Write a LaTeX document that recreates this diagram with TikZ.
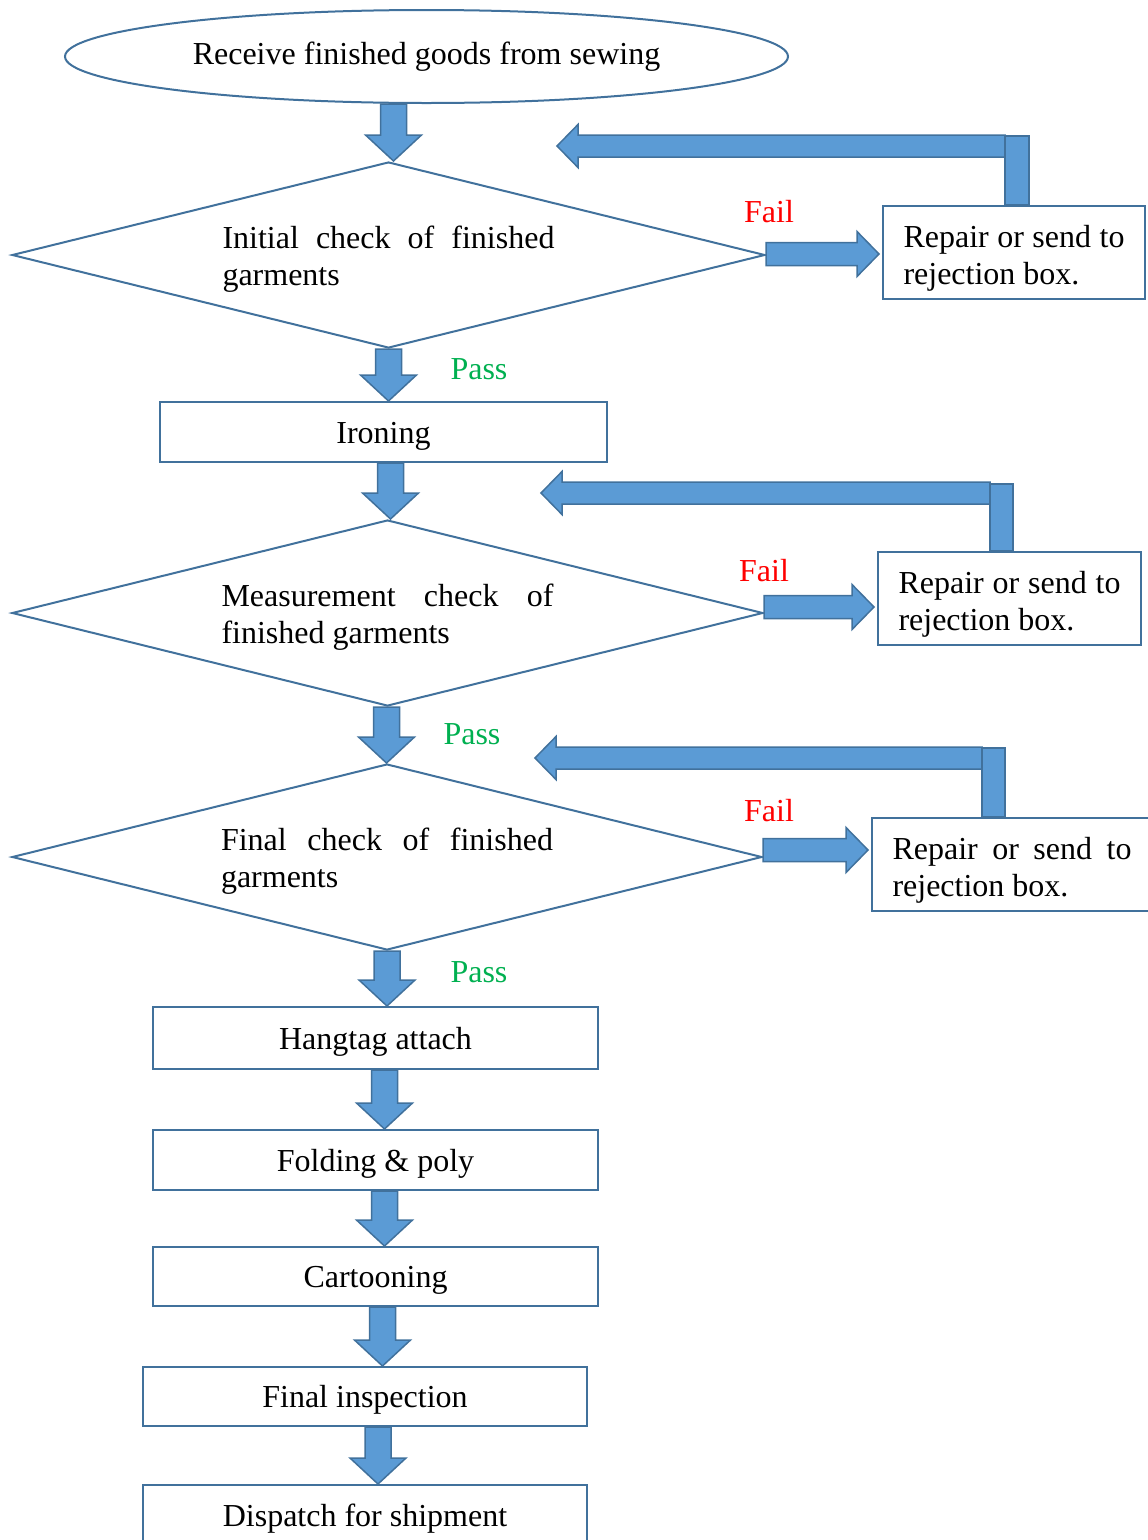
\documentclass[tikz,border=0pt]{standalone}
\usepackage{fontspec}
\setmainfont{Liberation Serif}
\usepackage{xcolor}
\usetikzlibrary{shapes.geometric,calc}
\definecolor{boxline}{HTML}{41719C}
\definecolor{arrowfill}{HTML}{5B9BD5}
\definecolor{passgreen}{HTML}{00B050}
\hyphenpenalty=10000
\exhyphenpenalty=10000
\tolerance=9999
\def\aoff{0}
\tikzset{
  every picture/.style = {
    x=1pt,
    y=-1pt,
    font=\fontsize{32}{37}\selectfont
  }
}
\tikzset{
  process/.style={
    draw = boxline,
    line width = 2pt,
    shape = rectangle,
    inner sep = 0pt,
    text height = 25pt,
    text depth = 3pt
  },
  decision/.style={
    draw = boxline,
    line width = 2pt,
    shape = diamond,
    aspect = 4,
    inner sep = 0pt,
    align = justify,
    text height = 26pt,
    text depth = 40pt
  },
  repair/.style={
    draw = boxline,
    line width = 2pt,
    shape = rectangle,
    anchor = north west,
    inner xsep = 20.5pt,
    inner ysep = 0pt,
    minimum height = 93pt,
    align = justify,
    text height = 27pt,
    text depth = 38pt
  },
  fail/.style={text = red},
  pass/.style={text = passgreen},
  aoff/.store in = \aoff,
  blockfill/.style={
    draw = boxline,
    fill = arrowfill,
    line width = 1.5pt,
    line join = miter
  },
  % down arrow, x from start
  blockd/.style={
    blockfill,
    to path={($(\tikztostart)+(\aoff-13,0)$)
      -- ($(\tikztostart|-\tikztotarget)+(\aoff-13,-26)$)
      -- ($(\tikztostart|-\tikztotarget)+(\aoff-28,-26)$)
      -- ($(\tikztostart|-\tikztotarget)+(\aoff,0)$)
      -- ($(\tikztostart|-\tikztotarget)+(\aoff+28,-26)$)
      -- ($(\tikztostart|-\tikztotarget)+(\aoff+13,-26)$)
      -- ($(\tikztostart)+(\aoff+13,0)$) -- cycle}
  },
  % right arrow, y from start
  blockr/.style={
    blockfill,
    to path={($(\tikztostart)+(0,\aoff-11.5)$)
      -- ($(\tikztotarget|-\tikztostart)+(-25,\aoff-11.5)$)
      -- ($(\tikztotarget|-\tikztostart)+(-25,\aoff-22.5)$)
      -- ($(\tikztotarget|-\tikztostart)+(-3,\aoff)$)
      -- ($(\tikztotarget|-\tikztostart)+(-25,\aoff+22.5)$)
      -- ($(\tikztotarget|-\tikztostart)+(-25,\aoff+11.5)$)
      -- ($(\tikztostart)+(0,\aoff+11.5)$) -- cycle}
  },
  % left arrow, y from start
  blockl/.style={
    blockfill,
    to path={($(\tikztostart)+(0,-11)$)
      -- ($(\tikztotarget|-\tikztostart)+(21,-11)$)
      -- ($(\tikztotarget|-\tikztostart)+(21,-21.5)$)
      -- (\tikztotarget|-\tikztostart)
      -- ($(\tikztotarget|-\tikztostart)+(21,21.5)$)
      -- ($(\tikztotarget|-\tikztostart)+(21,11)$)
      -- ($(\tikztostart)+(0,11)$) -- cycle}
  }
}

\begin{document}
\begin{tikzpicture}
        \useasboundingbox (0,0) rectangle (1148,1540);
        \node[draw=boxline, line width=2pt, ellipse, minimum width=723pt, minimum height=93pt, inner sep=0pt] (recv) at (426.5,56.5) {Receive finished goods from sewing};
        \node[decision, minimum width=753pt, minimum height=186pt, text width=332pt] (chk1) at (388.5,255) {Initial check of finished garments};
        \node[repair, text width=221pt] (rep1) at (882,205) {Repair or send to rejection box.};
        \node[process, minimum width=447pt, minimum height=60pt] (iron) at (383.5,432) {Ironing};
        \node[decision, minimum width=751pt, minimum height=186pt, text width=332pt] (chk2) at (387.5,613) {Measurement check of finished garments};
        \node[repair, text width=222pt] (rep2) at (877,551) {Repair or send to rejection box.};
        \node[decision, minimum width=750pt, minimum height=186pt, text width=332pt] (chk3) at (387,857) {Final check of finished garments};
        \node[repair, text width=239pt] (rep3) at (871,817) {Repair or send to rejection box.};
        \node[process, minimum width=445pt, minimum height=62pt] (tag) at (375.5,1038) {Hangtag attach};
        \node[process, minimum width=445pt, minimum height=60pt] (fold) at (375.5,1160) {Folding \& poly};
        \node[process, minimum width=445pt, minimum height=59pt] (carton) at (375.5,1276.5) {Cartooning};
        \node[process, minimum width=444pt, minimum height=59pt] (insp) at (365,1396.5) {Final inspection};
        \node[process, minimum width=444pt, minimum height=60pt] (disp) at (365,1515) {Dispatch for shipment};
        \node[fail] (fail1) at (769,212) {Fail};
        \node[fail] (fail2) at (764,571) {Fail};
        \node[fail] (fail3) at (769,811) {Fail};
        \node[pass] (pass1) at (479,369) {Pass};
        \node[pass] (pass2) at (472,734) {Pass};
        \node[pass] (pass3) at (479,972) {Pass};
        % down flow
        \draw[blockd, aoff=-33] (recv.south) to (chk1.north);
        \draw[blockd] (chk1.south) to (iron.north);
        \draw[blockd, aoff=7] (iron.south) to (chk2.north);
        \draw[blockd, aoff=-1] (chk2.south) to (chk3.north);
        \draw[blockd] (chk3.south) to (tag.north);
        \draw[blockd, aoff=9] (tag.south) to (fold.north);
        \draw[blockd, aoff=9] (fold.south) to (carton.north);
        \draw[blockd, aoff=7] (carton.south) to (insp.north);
        \draw[blockd, aoff=13] (insp.south) to (disp.north);
        % fail
        \draw[blockr, aoff=-1] (chk1.east) to (rep1.west);
        \draw[blockr, aoff=-6] (chk2.east) to (rep2.west);
        \draw[blockr, aoff=-7] (chk3.east) to (rep3.west);
        % back
        \coordinate (back1) at (1005,146);
        \coordinate (tip1) at (557,146);
        \coordinate (back2) at (990,493);
        \coordinate (tip2) at (541,493);
        \coordinate (back3) at (982,758);
        \coordinate (tip3) at (535,758);
        \draw[blockl] (back1) to (tip1);
        \filldraw[blockfill] (rep1.north -| back1) rectangle ($(back1)+(24,-10)$);
        \draw[blockl] (back2) to (tip2);
        \filldraw[blockfill] (rep2.north -| back2) rectangle ($(back2)+(23,-9)$);
        \draw[blockl] (back3) to (tip3);
        \filldraw[blockfill] (rep3.north -| back3) rectangle ($(back3)+(23,-10)$);
    \end{tikzpicture}
\end{document}
